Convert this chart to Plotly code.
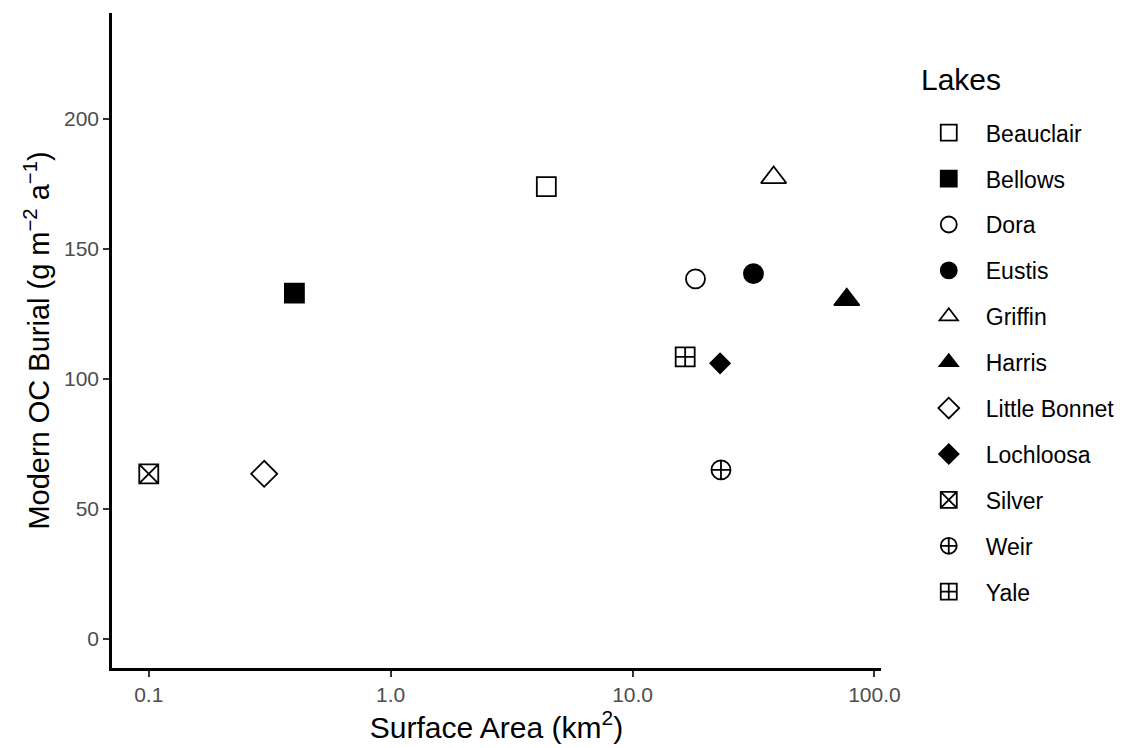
import plotly.graph_objects as go

# Data
lakes = ["Beauclair", "Bellows", "Dora", "Eustis", "Griffin", "Harris",
         "Little Bonnet", "Lochloosa", "Silver", "Weir", "Yale"]
surface_area = [4.4, 0.40, 18.2, 31.6, 38.3, 76.8, 0.30, 23.0, 0.10, 23.2, 16.5]
oc_burial = [174, 133, 138.5, 140.5, 177.5, 130.5, 63.5, 106, 63.5, 65, 108.5]

symbols = ["square-open", "square", "circle-open", "circle", "triangle-up-open",
           "triangle-up", "diamond-open", "diamond", "square-x-open",
           "circle-cross-open", "square-cross-open"]
sizes = [19, 19, 19, 19, 22, 22, 20, 15, 19, 19, 19]

x_ticks = [0.1, 1, 10, 100]
x_tick_text = ["0.1", "1.0", "10.0", "100.0"]
y_ticks = [0, 50, 100, 150, 200]
legend_title = "Lakes"

FONT = "Liberation Sans, Arial, sans-serif"

fig = go.Figure()
for name, xv, yv, sym, sz in zip(lakes, surface_area, oc_burial, symbols, sizes):
    fig.add_trace(go.Scatter(
        x=[xv], y=[yv], mode="markers", name=name, legendgroup=name,
        marker=dict(symbol=sym, size=sz, color="black",
                    line=dict(color="black", width=1.8)),
    ))

fig.add_annotation(
    text=legend_title, xref="paper", yref="paper",
    x=1.050, y=0.898, xanchor="left", yanchor="middle",
    showarrow=False, font=dict(size=30, color="black", family=FONT),
)

fig.update_layout(
    width=1127, height=740,
    margin=dict(l=104, r=254, t=5, b=80),
    paper_bgcolor="white", plot_bgcolor="white",
    font=dict(family=FONT, color="black"),
    showlegend=True,
    legend=dict(
        font=dict(size=23, color="black"),
        x=1.040, xanchor="left", y=0.850, yanchor="top",
        itemwidth=64, tracegroupgap=13,
        bgcolor="rgba(0,0,0,0)",
    ),
    xaxis=dict(
        type="log", range=[-1.152, 2.027],
        tickvals=x_ticks, ticktext=x_tick_text,
        showgrid=False, zeroline=False,
        showline=True, linecolor="black", linewidth=2.5,
        ticks="outside", ticklen=6, tickwidth=2, tickcolor="#333333",
        tickfont=dict(size=21, color="#4D4D4D"),
        title=dict(text="Surface Area (km<sup>2</sup>)", font=dict(size=30, color="black"), standoff=8),
    ),
    yaxis=dict(
        range=[-11.2, 240.8],
        tickvals=y_ticks,
        showgrid=False, zeroline=False,
        showline=True, linecolor="black", linewidth=2.5,
        ticks="outside", ticklen=6, tickwidth=2, tickcolor="#333333",
        tickfont=dict(size=21, color="#4D4D4D"),
        title=dict(text="Modern OC Burial (g m<sup>\u22122</sup> a<sup>\u22121</sup>)",
                   font=dict(size=29, color="black"), standoff=6),
    ),
)

fig.write_html("out.html")
